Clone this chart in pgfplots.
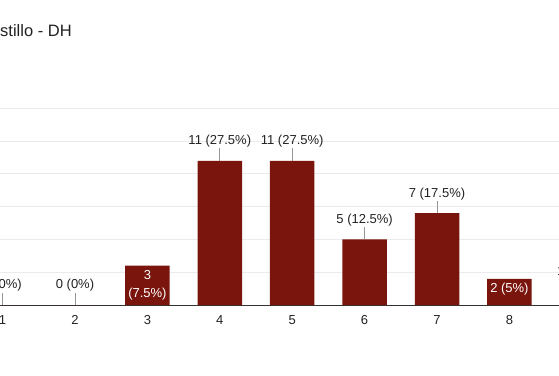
\documentclass[border=0pt]{standalone}
\usepackage{pgfplots}
\pgfplotsset{compat=1.18}
\usepackage{fontspec}
\setmainfont{Liberation Sans}
\definecolor{barred}{RGB}{122,21,14}
\definecolor{gridgray}{RGB}{235,235,235}
\definecolor{txt}{RGB}{34,34,34}
\definecolor{leader}{RGB}{150,150,150}
\begin{document}
\begin{tikzpicture}[x=1pt,y=1pt]
\clip (0,0) rectangle (559,375);
\fill[white] (0,0) rectangle (559,375);
\node[anchor=base west, inner sep=0pt, text=txt, font=\fontsize{16.5}{19}\selectfont] at (0,338) {stillo - DH};
\begin{axis}[
  at={(-69.8pt,70pt)}, anchor=south west,
  scale only axis, width=724pt, height=196.7pt,
  xmin=0, xmax=10, ymin=0, ymax=15,
  axis x line*=bottom, axis y line*=left,
  y axis line style={draw=none},
  x axis line style={draw=black!80, line width=1pt},
  xtick={1,2,3,4,5,6,7,8,9,10},
  xticklabels={1,2,3,4,5,6,7,8,9,10},
  ytick={0,2.5,5,7.5,10,12.5,15},
  yticklabels={},
  major tick length=0pt,
  ymajorgrids, grid style={draw=gridgray, line width=0.8pt},
  xticklabel style={anchor=center, yshift=-15pt, text=txt, font=\fontsize{13}{15}\selectfont},
  clip=false,
]
% leader lines
\addplot[draw=none, forget plot, error bars/.cd, y dir=plus, y explicit,
  error bar style={draw=leader, line width=0.7pt}, error mark=none]
  coordinates {(1,0) +- (0,0.95) (2,0) +- (0,0.95) (4,11) +- (0,0.95) (5,11) +- (0,0.95)
               (6,5) +- (0,0.95) (7,7) +- (0,0.95) (9,1) +- (0,0.95) (10,0) +- (0,0.95)};
% bars with labels above
\addplot[ybar, bar width=44.5pt, bar shift=0pt, fill=barred, draw=none,
  point meta=explicit symbolic,
  nodes near coords,
  every node near coord/.style={anchor=center, yshift=19.5pt, text=txt, inner sep=0pt, font=\fontsize{13}{15}\selectfont}]
  coordinates {(1,0) [0 (0\%)] (2,0) [0 (0\%)] (4,11) [11 (27.5\%)] (5,11) [11 (27.5\%)]
               (6,5) [5 (12.5\%)] (7,7) [7 (17.5\%)] (9,1) [1 (2.5\%)] (10,0) [0 (0\%)]};
% bars with labels inside
\addplot[ybar, bar width=44.5pt, bar shift=0pt, fill=barred, draw=none,
  point meta=explicit symbolic,
  nodes near coords,
  every node near coord/.style={anchor=north, yshift=-4.5pt, text=white, inner sep=0pt, align=center, font=\fontsize{13}{18.5}\selectfont}]
  coordinates {(3,3) [{3\\(7.5\%)}] (8,2) [2 (5\%)]};
\end{axis}
\end{tikzpicture}
\end{document}
